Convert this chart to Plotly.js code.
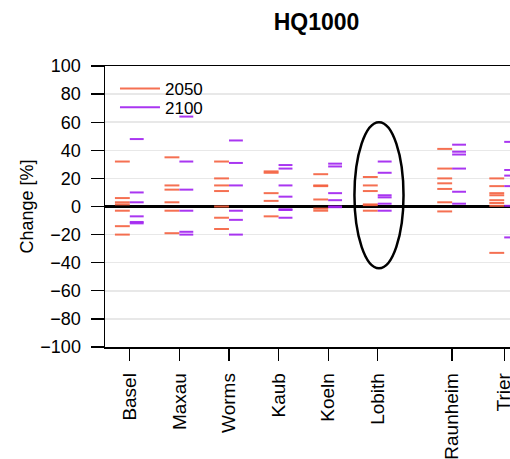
<!DOCTYPE html>
<html>
<head>
<meta charset="utf-8">
<script src="https://cdn.plot.ly/plotly-3.0.1.min.js"></script>
<style>
html,body{margin:0;padding:0;overflow:hidden;background:#fff;}
#chart{width:528px;height:459px;}
</style>
</head>
<body>
<div id="chart"></div>
<script>
// ---- data ----
const stations = ['Basel','Maxau','Worms','Kaub','Koeln','Lobith','Raunheim','Trier'];
const stationPos = [1, 2, 3, 4, 5, 6, 7.5, 8.55];
const change2050 = [
  [32, 6, 3, 1.5, -3, -14, -20],
  [35, 15, 12, 3, -3, -19],
  [32, 20, 15, 11, 0, -8, -16],
  [25, 24, 9.5, 4, -7],
  [23, 15, 14.5, 5, -1.5, -3],
  [21, 15, 11, 1.5, 1, -3],
  [41, 27, 20, 16.5, 12.5, 3, -3.5],
  [20, 14.5, 9.5, 8, 4.5, 2.5, 0.5, -33]
];
const change2100 = [
  [48, 10, 3, -7, -11, -12],
  [64, 32, 12, -3, -18, -20],
  [47, 31, 15, -3, -9.5, -20],
  [29.5, 27, 15, 7, -2, -2.5, -8],
  [30.5, 28.5, 9.5, 4.5, 0, -0.5],
  [32, 24, 8, 6.5, 2, -3],
  [44, 39, 37, 27, 10.5, 2],
  [46, 26, 22, 14.5, 0.5, -22]
];
const seriesNames = ['2050', '2100'];
const yTicks = [-100, -80, -60, -40, -20, 0, 20, 40, 60, 80, 100];

// ---- build segments ----
function segs(values, x0off, x1off) {
  const xs = [], ys = [];
  values.forEach((arr, i) => {
    arr.forEach(v => {
      xs.push(stationPos[i] + x0off, stationPos[i] + x1off, null);
      ys.push(v, v, null);
    });
  });
  return {xs, ys};
}
const s50 = segs(change2050, -0.30, 0.0);
const s100 = segs(change2100, 0.0, 0.28);

const FONT = 'Liberation Sans, Arial, Helvetica, sans-serif';
const traces = [
  {x: s50.xs, y: s50.ys, mode: 'lines', name: seriesNames[0], legend: 'legend',
   line: {color: 'rgba(244,96,63,0.9)', width: 2}, hoverinfo: 'skip'},
  {x: s100.xs, y: s100.ys, mode: 'lines', name: seriesNames[1], legend: 'legend2',
   line: {color: 'rgba(160,32,240,0.9)', width: 2}, hoverinfo: 'skip'}
];

const legendCommon = {xanchor: 'left', yanchor: 'middle', bgcolor: 'rgba(0,0,0,0)',
  font: {family: FONT, size: 17, color: '#000'}, itemwidth: 40};

const layout = {
  width: 528, height: 459,
  margin: {l: 105, r: 0, t: 66, b: 112, pad: 0},
  paper_bgcolor: '#fff', plot_bgcolor: '#fff',
  font: {family: FONT, size: 18, color: '#000'},
  title: {text: '<b>HQ1000</b>', font: {family: FONT, size: 23, color: '#000'},
          xref: 'paper', x: 0.5, xanchor: 'center', yref: 'container', y: 0.97, yanchor: 'top'},
  showlegend: true,
  legend: Object.assign({x: 0.0236, y: 0.918}, legendCommon),
  legend2: Object.assign({x: 0.0236, y: 0.852}, legendCommon),
  xaxis: {
    range: [0.5, 9.03], tickmode: 'array', tickvals: stationPos, ticktext: stations,
    tickangle: -90, ticks: 'outside', ticklen: 12, tickwidth: 1.3, tickcolor: '#000',
    showline: true, linecolor: '#000', linewidth: 1.5, mirror: true,
    showgrid: false, zeroline: false, ticklabelstandoff: 5,
    tickfont: {family: FONT, size: 19, color: '#000'}
  },
  yaxis: {
    range: [-100, 100], tickmode: 'array', tickvals: yTicks,
    ticks: 'outside', ticklen: 13, tickwidth: 1.3, tickcolor: '#000',
    showline: true, linecolor: '#000', linewidth: 1.5,
    showgrid: true, gridcolor: '#e8e8e8', gridwidth: 1.5,
    zeroline: true, zerolinecolor: '#000', zerolinewidth: 3,
    ticklabelstandoff: 6,
    tickfont: {family: FONT, size: 18, color: '#000'},
    title: {text: 'Change [%]', font: {family: FONT, size: 18, color: '#000'}, standoff: 2}
  },
  shapes: [{
    type: 'circle', xref: 'x', yref: 'y', x0: 5.53, x1: 6.52, y0: -44, y1: 60,
    line: {color: '#000', width: 2.5}
  }]
};

Plotly.newPlot('chart', traces, layout, {staticPlot: true, displayModeBar: false});
</script>
</body>
</html>
